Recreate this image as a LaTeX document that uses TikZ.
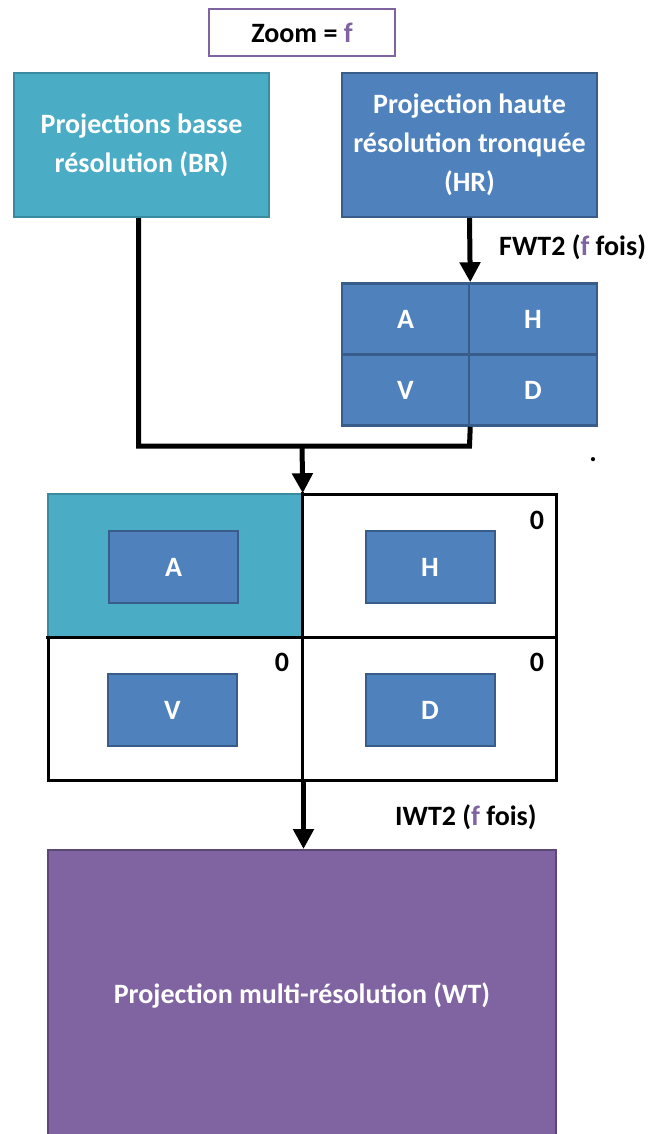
\documentclass[tikz,border=0pt]{standalone}
\usepackage{fontspec}
\setmainfont{Carlito}
\usetikzlibrary{arrows.meta}
\definecolor{teal1}{HTML}{4BACC6}
\definecolor{teal2}{HTML}{3A8AA0}
\definecolor{blue1}{HTML}{4F81BD}
\definecolor{blue2}{HTML}{385D8A}
\definecolor{purp1}{HTML}{8064A2}
\definecolor{purp2}{HTML}{5C4776}
\newcommand{\fp}{\textcolor{purp1}{f}}
\begin{document}
\begin{tikzpicture}[x=1pt,y=-1pt,
  font=\bfseries\fontsize{28}{39}\selectfont,
  bigbox/.style={draw, line width=2pt, align=center, text=white, inner sep=0pt},
  tealbox/.style={bigbox, fill=teal1, draw=teal2},
  bluebox/.style={bigbox, fill=blue1, draw=blue2},
  purpbox/.style={bigbox, fill=purp1, draw=purp2},
  cellbox/.style={draw=blue2, fill=blue1, line width=2.5pt, text=white, minimum width=127pt, minimum height=71pt, inner sep=0pt},
  gridcell/.style={draw=black, line width=3pt, minimum width=254pt, minimum height=143pt, inner sep=0pt},
  inbox/.style={draw=blue2, fill=blue1, line width=2pt, text=white, minimum width=129pt, minimum height=72pt, inner sep=0pt},
  zero/.style={inner sep=0pt, text=black},
  lbl/.style={inner sep=0pt, anchor=west, text=black},
  conn/.style={line width=5pt, draw=black, line join=miter},
  arr/.style={conn, -{Triangle[length=20pt,width=20pt]}},
]
\useasboundingbox (0,0) rectangle (651,1134);
\clip (0,0) rectangle (651,1134);

% Zoom box
\node[draw=purp1, line width=2.5pt, fill=white, minimum width=186pt, minimum height=47pt, inner sep=0pt] (zoom) at (302,32.5) {Zoom = \fp};

% Top boxes
\node[tealbox, minimum width=255pt, minimum height=144pt] (BR) at (141.5,145) {Projections basse\\résolution (BR)};
\node[bluebox, minimum width=255pt, minimum height=144pt] (HR) at (469.5,145) {Projection haute\\résolution tronquée\\(HR)};

% Small grid
\node[cellbox] (A) at (405.5,319) {A};
\node[cellbox, minimum width=128pt] (H) at (533,319) {H};
\node[cellbox] (V) at (405.5,390) {V};
\node[cellbox, minimum width=128pt] (D) at (533,390) {D};

\node[lbl] (fwt) at (499,247) {FWT2 (\fp{} fois)};

% Big grid
\node[gridcell, fill=white] (TR) at (429,565.5) {};
\node[gridcell, fill=white] (BL) at (175,708.5) {};
\node[gridcell, fill=white] (BRc) at (429,708.5) {};
\node[gridcell, fill=teal1, draw=teal2, line width=1.5pt] (TL) at (175,565.5) {};
\draw[line width=3pt, line cap=rect] (TL.north east) -- (TL.south east) -- (TL.south west);

\node[inbox] (iA) at (173.5,567) {A};
\node[inbox] (iH) at (430,567) {H};
\node[inbox] (iV) at (172.5,710) {V};
\node[inbox] (iD) at (430,710) {D};

\node[zero] (z1) at (537,520) {0};
\node[zero] (z2) at (282,662) {0};
\node[zero] (z3) at (537,662) {0};

\node[lbl] (iwt) at (395,817) {IWT2 (\fp{} fois)};

% Bottom box
\node[purpbox, minimum width=508pt, minimum height=290pt] (WT) at (302,995) {Projection multi-résolution (WT)};

% stray dot
\node[inner sep=0pt, text=black] (dot) at (593,460) {.};

% Connectors
\coordinate (jR) at (469.5,446);
\coordinate (jM) at (302,446);
\draw[arr] (HR.south) -- (A.north east);
\draw[conn] ([xshift=-3pt]BR.south) |- (jR) -- (V.south east);
\draw[arr] (jM) -- (TL.north east);
\draw[arr] (BL.south east) -- (BL.south east |- WT.north);
\end{tikzpicture}
\end{document}
